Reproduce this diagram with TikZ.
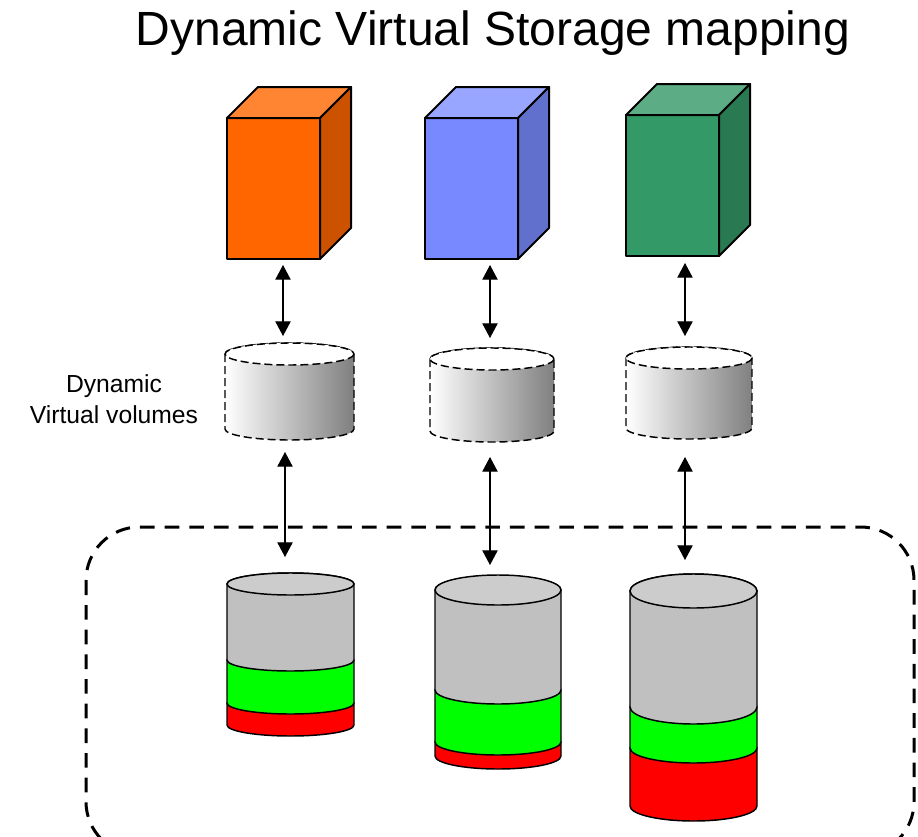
\documentclass[tikz,border=0pt]{standalone}
\usepackage{fontspec}
\setmainfont{Liberation Sans}
\usetikzlibrary{arrows.meta}
\definecolor{orfront}{RGB}{255,102,0}
\definecolor{ortop}{RGB}{255,133,51}
\definecolor{orside}{RGB}{204,82,0}
\definecolor{blfront}{RGB}{120,136,255}
\definecolor{bltop}{RGB}{153,166,255}
\definecolor{blside}{RGB}{96,112,204}
\definecolor{grfront}{RGB}{51,153,102}
\definecolor{grtop}{RGB}{92,173,133}
\definecolor{grside}{RGB}{41,122,82}
\definecolor{diskgray}{RGB}{192,192,192}
\definecolor{disktop}{RGB}{204,204,204}
\definecolor{diskgreen}{RGB}{0,255,0}
\definecolor{diskred}{RGB}{255,0,0}
% server box: left x, top y, front, top, side
\def\server#1#2#3#4#5{%
  \filldraw[edge3d, fill=#3] (#1,#2) rectangle (#1+93,#2+141);
  \filldraw[edge3d, fill=#4] (#1,#2) -- (#1+31,#2-31) -- (#1+124,#2-31) -- (#1+93,#2) -- cycle;
  \filldraw[edge3d, fill=#5] (#1+93,#2) -- (#1+124,#2-31) -- (#1+124,#2+110) -- (#1+93,#2+141) -- cycle;}
% virtual volume: centre x, x radius, top y, bottom y
\def\vvolume#1#2#3#4{%
  \path[vvol, left color=white, right color=black!50] (#1-#2,#3) -- (#1-#2,#4)
    arc[start angle=180, end angle=0, x radius=#2, y radius=11] -- (#1+#2,#3)
    arc[start angle=0, end angle=-180, x radius=#2, y radius=11] -- cycle;
  \filldraw[vvol, fill=white] (#1,#3) ellipse[x radius=#2, y radius=11];}
% disk band: centre x, x radius, y radius, top y, bottom y, colour
\def\band#1#2#3#4#5#6{%
  \filldraw[disk, fill=#6] (#1-#2,#4) -- (#1-#2,#5)
    arc[start angle=180, end angle=0, x radius=#2, y radius=#3] -- (#1+#2,#4)
    arc[start angle=0, end angle=-180, x radius=#2, y radius=#3] -- cycle;}
\def\disktop#1#2#3#4{\filldraw[disk, fill=disktop] (#1,#4) ellipse[x radius=#2, y radius=#3];}

\begin{document}
\begin{tikzpicture}[x=0.75pt, y=-0.75pt,
    edge3d/.style={draw=black, line width=1.5pt, line join=round},
    vvol/.style={draw=black, line width=1.1pt, dash pattern=on 6pt off 3pt},
    disk/.style={draw=black, line width=1.1pt},
    pool/.style={draw=black, line width=2.25pt, dash pattern=on 11pt off 7.5pt, rounded corners=40pt},
    link/.style={{Triangle[length=11pt,width=11.5pt]}-{Triangle[length=11pt,width=11.5pt]}, line width=0.8pt}]
  \clip (0,0) rectangle (918,836);

  \node[anchor=base, font=\fontsize{36}{42}\selectfont] (title) at (493,45) {Dynamic Virtual Storage mapping};
  \node[align=center, font=\fontsize{18.5}{23}\selectfont] (vlabel) at (114,399) {Dynamic\\Virtual volumes};

  % servers
  \server{227}{118}{orfront}{ortop}{orside}
  \server{425}{118}{blfront}{bltop}{blside}
  \server{626}{115}{grfront}{grtop}{grside}

  % virtual volumes
  \vvolume{289.5}{64.5}{354}{429}
  \vvolume{492}{62}{359}{431}
  \vvolume{689}{63}{358}{428}

  % storage pool
  \draw[pool] (86,527) rectangle (914,855);

  % disks
  \band{290.5}{63.5}{11}{703}{725}{diskred}
  \band{290.5}{63.5}{11}{660}{703}{diskgreen}
  \band{290.5}{63.5}{11}{584}{660}{diskgray}
  \disktop{290.5}{63.5}{11}{584}
  \band{498}{63}{13}{742}{756}{diskred}
  \band{498}{63}{13}{690}{742}{diskgreen}
  \band{498}{63}{14}{590}{690}{diskgray}
  \disktop{498}{63}{15}{590}
  \band{693.5}{63.5}{15}{748}{806}{diskred}
  \band{693.5}{63.5}{15}{707}{748}{diskgreen}
  \band{693.5}{63.5}{17}{591}{707}{diskgray}
  \disktop{693.5}{63.5}{17}{591}

  % link ends
  \coordinate (srv1-s) at (283,265);
  \coordinate (srv2-s) at (490,265);
  \coordinate (srv3-s) at (685,263);
  \coordinate (vol1-n) at (283,336);
  \coordinate (vol2-n) at (490,338);
  \coordinate (vol3-n) at (685,336);
  \coordinate (vol1-s) at (285,452);
  \coordinate (vol2-s) at (490,457);
  \coordinate (vol3-s) at (685,457);
  \coordinate (disk1-n) at (285,557);
  \coordinate (disk2-n) at (490,565);
  \coordinate (disk3-n) at (685,560);

  \draw[link] (srv1-s) -- (vol1-n);
  \draw[link] (srv2-s) -- (vol2-n);
  \draw[link] (srv3-s) -- (vol3-n);
  \draw[link] (vol1-s) -- (disk1-n);
  \draw[link] (vol2-s) -- (disk2-n);
  \draw[link] (vol3-s) -- (disk3-n);
\end{tikzpicture}
\end{document}
